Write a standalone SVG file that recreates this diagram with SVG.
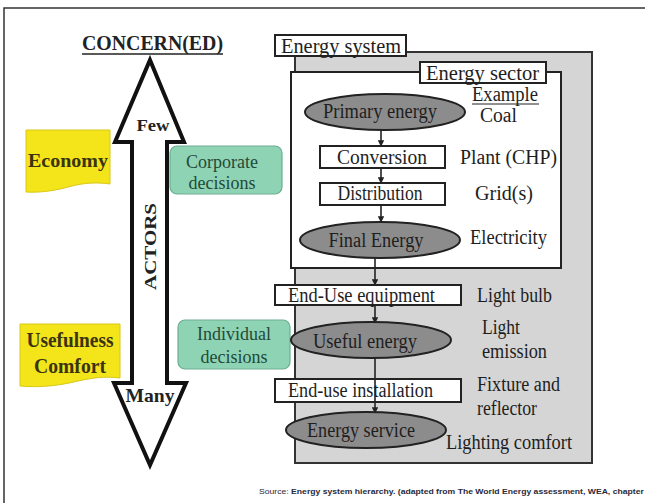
<svg xmlns="http://www.w3.org/2000/svg" width="645" height="503" viewBox="0 0 645 503" font-family="'Liberation Serif', 'Times New Roman', serif">
  <defs>
    <style>
      .lbl { font-size: 20px; fill: #1e1e1e; }
      .bold { font-weight: bold; }
      .box { fill: #ffffff; stroke: #222; stroke-width: 2; }
      .ell { fill: #8c8c8c; stroke: #222; stroke-width: 2; }
      .note { fill: #f4e41a; stroke: #d8c81a; stroke-width: 1; }
      .dec { fill: #8fd3b5; stroke: #6cae92; stroke-width: 1.2; }
      .dectext { font-size: 19px; fill: #1f4a38; }
      .conn { stroke: #222; stroke-width: 1.6; fill: none; }
    </style>
    <marker id="tip" viewBox="0 0 10 10" refX="9" refY="5" markerWidth="4" markerHeight="4" orient="auto">
      <path d="M0,0 L10,5 L0,10 Z" fill="#222"/>
    </marker>
  </defs>

  <rect width="645" height="503" fill="#ffffff"/>
  <!-- page frame -->
  <path d="M4,503 V8 H645" fill="none" stroke="#333" stroke-width="1.5"/>

  <!-- concern / actors column -->
  <g id="concern">
    <text x="82" y="50" class="bold" font-size="20" fill="#222" textLength="141" lengthAdjust="spacingAndGlyphs">CONCERN(ED)</text>
    <line x1="82" y1="54" x2="223" y2="54" stroke="#222" stroke-width="1.3"/>
  </g>
  <g id="actors-arrow">
    <polygon points="150,60 184,142 167,142 167,383 186,383 150,465 114,383 132,383 132,142 115,142" fill="#ffffff" stroke="#111" stroke-width="4" stroke-linejoin="miter"/>
    <text x="153" y="131" class="bold" font-size="17" fill="#222" text-anchor="middle" textLength="33" lengthAdjust="spacingAndGlyphs">Few</text>
    <text x="150" y="402" class="bold" font-size="19" fill="#222" text-anchor="middle" textLength="49" lengthAdjust="spacingAndGlyphs">Many</text>
    <text transform="translate(156,290) rotate(-90)" class="bold" font-size="17" fill="#222" textLength="87" lengthAdjust="spacingAndGlyphs">ACTORS</text>
  </g>

  <g id="economy">
    <path class="note" d="M26,130 H110 V184 C96,182 84,183 72,186 C58,190 42,193 26,192 Z"/>
    <text x="28" y="167" class="bold" font-size="19" fill="#3a3410" textLength="80" lengthAdjust="spacingAndGlyphs">Economy</text>
  </g>
  <g id="usefulness">
    <path class="note" d="M20,324 H120 V378 C104,376 92,378 78,381 C62,385 42,388 20,386 Z"/>
    <text x="70" y="347" class="bold" font-size="20" fill="#3a3410" text-anchor="middle" textLength="87" lengthAdjust="spacingAndGlyphs">Usefulness</text>
    <text x="70" y="373" class="bold" font-size="20" fill="#3a3410" text-anchor="middle" textLength="72" lengthAdjust="spacingAndGlyphs">Comfort</text>
  </g>

  <g id="corporate-decisions">
    <rect class="dec" x="170" y="146" width="112" height="48" rx="7"/>
    <text x="222" y="168" class="dectext" text-anchor="middle" textLength="72" lengthAdjust="spacingAndGlyphs">Corporate</text>
    <text x="222" y="189" class="dectext" text-anchor="middle" textLength="67" lengthAdjust="spacingAndGlyphs">decisions</text>
  </g>
  <g id="individual-decisions">
    <rect class="dec" x="178" y="320" width="112" height="49" rx="7"/>
    <text x="234" y="340" class="dectext" text-anchor="middle" textLength="74" lengthAdjust="spacingAndGlyphs">Individual</text>
    <text x="234" y="363" class="dectext" text-anchor="middle" textLength="67" lengthAdjust="spacingAndGlyphs">decisions</text>
  </g>

  <!-- energy system panel -->
  <g id="energy-system">
    <rect x="295" y="52" width="297" height="411" fill="#d5d5d5" stroke="#333" stroke-width="2"/>
    <rect class="box" x="275" y="35" width="131" height="21"/>
    <text x="281" y="53" class="lbl" textLength="120" lengthAdjust="spacingAndGlyphs">Energy system</text>
  </g>
  <g id="energy-sector">
    <rect x="291" y="72" width="270" height="196" fill="#ffffff" stroke="#222" stroke-width="2"/>
    <rect class="box" x="420" y="62" width="126" height="21"/>
    <text x="426" y="80" class="lbl" textLength="113" lengthAdjust="spacingAndGlyphs">Energy sector</text>
    <text x="472" y="101" class="lbl" font-size="19" textLength="66" lengthAdjust="spacingAndGlyphs">Example</text>
    <line x1="472" y1="104" x2="539" y2="104" stroke="#222" stroke-width="1.2"/>
  </g>

  <g id="connectors">
    <line class="conn" x1="381" y1="130" x2="381" y2="146" marker-end="url(#tip)"/>
    <line class="conn" x1="381" y1="168" x2="381" y2="183" marker-end="url(#tip)"/>
    <line class="conn" x1="381" y1="205" x2="381" y2="222" marker-end="url(#tip)"/>
    <line class="conn" x1="375" y1="258" x2="375" y2="285" marker-end="url(#tip)"/>
    <line class="conn" x1="375" y1="305" x2="375" y2="323" marker-end="url(#tip)"/>
    <line class="conn" x1="375" y1="358" x2="375" y2="379"/>
    <line class="conn" x1="375" y1="402" x2="375" y2="413" marker-end="url(#tip)"/>
  </g>

  <g id="primary-energy">
    <ellipse class="ell" cx="385" cy="112" rx="80" ry="18"/>
    <text x="380" y="118" class="lbl" text-anchor="middle" textLength="114" lengthAdjust="spacingAndGlyphs">Primary energy</text>
    <text x="480" y="122" class="lbl" font-size="19" textLength="37" lengthAdjust="spacingAndGlyphs">Coal</text>
  </g>
  <g id="conversion">
    <rect class="box" x="320" y="146" width="125" height="22"/>
    <text x="382" y="164" class="lbl" text-anchor="middle" textLength="90" lengthAdjust="spacingAndGlyphs">Conversion</text>
    <text x="460" y="164" class="lbl" textLength="97" lengthAdjust="spacingAndGlyphs">Plant (CHP)</text>
  </g>
  <g id="distribution">
    <rect class="box" x="320" y="183" width="125" height="22"/>
    <text x="380" y="200" class="lbl" text-anchor="middle" textLength="85" lengthAdjust="spacingAndGlyphs">Distribution</text>
    <text x="475" y="200" class="lbl" textLength="58" lengthAdjust="spacingAndGlyphs">Grid(s)</text>
  </g>
  <g id="final-energy">
    <ellipse class="ell" cx="380" cy="240" rx="80" ry="18"/>
    <text x="376" y="247" class="lbl" text-anchor="middle" textLength="95" lengthAdjust="spacingAndGlyphs">Final Energy</text>
    <text x="470" y="244" class="lbl" textLength="77" lengthAdjust="spacingAndGlyphs">Electricity</text>
  </g>
  <g id="end-use-equipment">
    <rect class="box" x="275" y="285" width="186" height="20"/>
    <text x="288" y="302" class="lbl" textLength="147" lengthAdjust="spacingAndGlyphs">End-Use equipment</text>
    <text x="477" y="302" class="lbl" textLength="75" lengthAdjust="spacingAndGlyphs">Light bulb</text>
  </g>
  <g id="useful-energy">
    <ellipse class="ell" cx="371" cy="340" rx="80" ry="18"/>
    <text x="365" y="348" class="lbl" text-anchor="middle" textLength="104" lengthAdjust="spacingAndGlyphs">Useful energy</text>
    <text x="482" y="334" class="lbl" textLength="38" lengthAdjust="spacingAndGlyphs">Light</text>
    <text x="482" y="358" class="lbl" textLength="65" lengthAdjust="spacingAndGlyphs">emission</text>
  </g>
  <g id="end-use-installation">
    <rect class="box" x="275" y="379" width="186" height="23"/>
    <text x="288" y="397" class="lbl" textLength="145" lengthAdjust="spacingAndGlyphs">End-use installation</text>
    <line class="conn" x1="375" y1="379" x2="375" y2="402"/>
    <text x="477" y="391" class="lbl" textLength="83" lengthAdjust="spacingAndGlyphs">Fixture and</text>
    <text x="477" y="415" class="lbl" textLength="60" lengthAdjust="spacingAndGlyphs">reflector</text>
  </g>
  <g id="energy-service">
    <ellipse class="ell" cx="366" cy="430" rx="80" ry="18"/>
    <text x="361" y="437" class="lbl" text-anchor="middle" textLength="108" lengthAdjust="spacingAndGlyphs">Energy service</text>
    <text x="446" y="449" class="lbl" textLength="126" lengthAdjust="spacingAndGlyphs">Lighting comfort</text>
  </g>

  <!-- source line -->
  <text x="259" y="494" font-family="'Liberation Sans', Arial, sans-serif" font-size="6.5" fill="#2a2a3a" textLength="392" lengthAdjust="spacingAndGlyphs">Source: <tspan font-weight="bold">Energy system hierarchy. (adapted from The World Energy assessment, WEA, chapter 6</tspan></text>
</svg>
